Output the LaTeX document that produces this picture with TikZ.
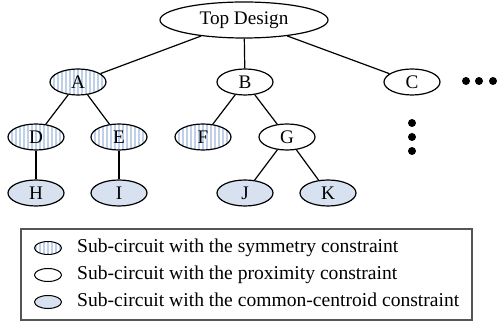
\documentclass[tikz,border=0pt]{standalone}
\usepackage{fontspec}
\setmainfont{Liberation Serif}
\usetikzlibrary{shapes.geometric}
\definecolor{stripeblue}{RGB}{190,208,234}
\definecolor{centroidfill}{RGB}{216,225,239}
\definecolor{framegray}{RGB}{85,85,85}
\tikzset{
  sub/.style={ellipse, draw=black, line width=1.2pt, inner sep=0pt,
    minimum width=56pt, minimum height=26pt, font=\fontsize{19.2}{22}\selectfont},
  symm/.style={sub, fill=white, path picture={
      \foreach \i in {-60,-56,...,60}
        \draw[stripeblue, line width=1.8pt]
          ([xshift=\i pt]path picture bounding box.south) --
          ([xshift=\i pt]path picture bounding box.north);}},
  prox/.style={sub, fill=white},
  cent/.style={sub, fill=centroidfill},
  icon/.style={minimum width=27pt, minimum height=13pt, line width=1pt},
  link/.style={line width=1.2pt},
  more/.style={circle, fill=black, inner sep=0pt, minimum size=8pt},
  legtext/.style={anchor=west, inner sep=0pt, text height=13pt, text depth=4pt,
    font=\fontsize{19.6}{22}\selectfont},
}
\begin{document}
\begin{tikzpicture}[x=1pt, y=-1pt]
  \useasboundingbox (0,0) rectangle (499,328);

  % tree
  \node[prox, minimum width=168pt, minimum height=36pt] (top) at (244,20) {Top Design};
  \node[symm] (A) at (78,82) {A};
  \node[prox] (B) at (245,82) {B};
  \node[prox] (C) at (412,82) {C};
  \node[symm] (D) at (36,137) {D};
  \node[symm] (E) at (119,137) {E};
  \node[symm] (F) at (203,137) {F};
  \node[prox] (G) at (287,137) {G};
  \node[cent] (H) at (36,193) {H};
  \node[cent] (I) at (119,193) {I};
  \node[cent] (J) at (245,193) {J};
  \node[cent] (K) at (328,193) {K};

  \draw[link] (top) -- (A);
  \draw[link] (top) -- (B);
  \draw[link] (top) -- (C);
  \draw[link] (A) -- (D);
  \draw[link] (A) -- (E);
  \draw[link] (B) -- (F);
  \draw[link] (B) -- (G);
  \draw[link] (D) -- (H);
  \draw[link] (E) -- (I);
  \draw[link] (G) -- (J);
  \draw[link] (G) -- (K);

  % further siblings and children
  \node[more] (h1) at (466,81) {};
  \node[more] (h2) at (479,81) {};
  \node[more] (h3) at (493,81) {};
  \node[more] (v1) at (412,123) {};
  \node[more] (v2) at (412,137) {};
  \node[more] (v3) at (412,151) {};

  % legend
  \node[draw=framegray, line width=1.4pt, minimum width=451pt, minimum height=91pt,
        inner sep=0pt] (legend) at (246.5,274.5) {};
  \node[symm, icon] (ls) at (48,248) {};
  \node[prox, icon] (lp) at (48,275) {};
  \node[cent, icon] (lc) at (48,302) {};
  \node[legtext] (ts) at (77,248) {Sub-circuit with the symmetry constraint};
  \node[legtext] (tp) at (77,275) {Sub-circuit with the proximity constraint};
  \node[legtext] (tc) at (77,302) {Sub-circuit with the common-centroid constraint};
\end{tikzpicture}
\end{document}
